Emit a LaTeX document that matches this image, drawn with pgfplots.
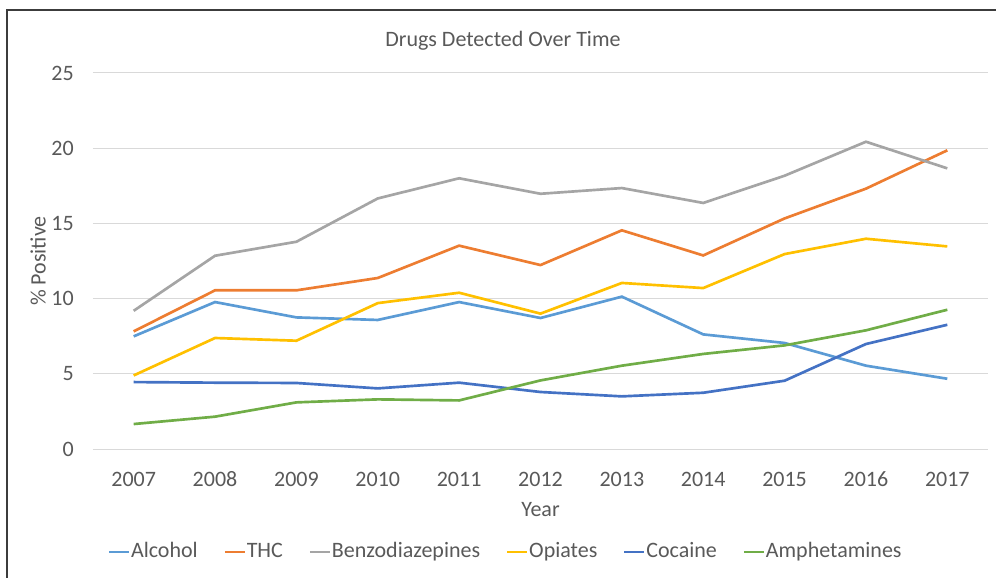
\documentclass[border=0pt]{standalone}
\usepackage{fontspec}
\setmainfont{Carlito}
\usepackage{pgfplots}
\pgfplotsset{compat=1.18}
\definecolor{cAlc}{HTML}{5B9BD5}
\definecolor{cTHC}{HTML}{ED7D31}
\definecolor{cBenz}{HTML}{A5A5A5}
\definecolor{cOpi}{HTML}{FFC000}
\definecolor{cCoc}{HTML}{4472C4}
\definecolor{cAmp}{HTML}{70AD47}
\definecolor{txt}{HTML}{595959}
\definecolor{grd}{HTML}{D9D9D9}
\definecolor{frm}{HTML}{3C3C3C}
\begin{document}
\fontsize{16.5}{19.8}\selectfont
\begin{tikzpicture}
\path[use as bounding box] (-69.75pt,-96.75pt) rectangle (677.25pt,336.75pt);
\begin{axis}[
  at={(0pt,0pt)}, anchor=south west,
  scale only axis, width=671.25pt, height=282pt,
  xmin=2006.5, xmax=2017.5, ymin=0, ymax=25,
  xtick={2007,2008,...,2017}, ytick={0,5,...,25},
  /pgf/number format/assume math mode=true,
  /pgf/number format/1000 sep={},
  axis line style={draw=none}, tick style={draw=none},
  ymajorgrids, grid style={grd, line width=0.75pt},
  ticklabel style={font=\fontsize{16.5}{19.8}\selectfont, text=txt, inner sep=0pt},
  xticklabel style={anchor=base, yshift=-28pt},
  yticklabel style={anchor=east, xshift=-14.25pt},
  xlabel={Year},
  xlabel style={at={(axis description cs:0.5,0)}, anchor=center, yshift=-45.75pt, font=\fontsize{16.5}{19.8}\selectfont, text=txt, inner sep=0pt},
  title={Drugs Detected Over Time},
  title style={at={(axis description cs:0.458,1)}, anchor=center, yshift=18pt, font=\fontsize{16.5}{19.8}\selectfont, text=txt, inner sep=0pt},
  legend columns=6,
  legend image code/.code={\draw[#1] (0pt,0pt) -- (15pt,0pt);},
  legend style={at={(axis description cs:0.4603,0)}, anchor=center, yshift=-77.25pt, draw=none, fill=none,
    font=\fontsize{16.5}{19.8}\selectfont, text=txt,
    nodes={inner xsep=0.5pt, inner ysep=0pt},
    /tikz/every even column/.append style={column sep=18.75pt}},
  every axis plot/.append style={line width=2pt},
]
\addplot[cAlc] coordinates {(2007,7.49)(2008,9.77)(2009,8.75)(2010,8.58)(2011,9.77)(2012,8.71)(2013,10.13)(2014,7.62)(2015,7.05)(2016,5.54)(2017,4.67)};
\addlegendentry{Alcohol}
\addplot[cTHC] coordinates {(2007,7.82)(2008,10.55)(2009,10.55)(2010,11.37)(2011,13.52)(2012,12.23)(2013,14.54)(2014,12.87)(2015,15.33)(2016,17.31)(2017,19.86)};
\addlegendentry{THC}
\addplot[cBenz] coordinates {(2007,9.19)(2008,12.85)(2009,13.78)(2010,16.66)(2011,18.0)(2012,16.97)(2013,17.35)(2014,16.36)(2015,18.17)(2016,20.43)(2017,18.66)};
\addlegendentry{Benzodiazepines}
\addplot[cOpi] coordinates {(2007,4.89)(2008,7.38)(2009,7.2)(2010,9.7)(2011,10.39)(2012,9.0)(2013,11.04)(2014,10.7)(2015,12.96)(2016,13.98)(2017,13.47)};
\addlegendentry{Opiates}
\addplot[cCoc] coordinates {(2007,4.45)(2008,4.41)(2009,4.39)(2010,4.03)(2011,4.41)(2012,3.79)(2013,3.5)(2014,3.74)(2015,4.54)(2016,6.98)(2017,8.26)};
\addlegendentry{Cocaine}
\addplot[cAmp] coordinates {(2007,1.66)(2008,2.15)(2009,3.1)(2010,3.3)(2011,3.23)(2012,4.56)(2013,5.54)(2014,6.32)(2015,6.89)(2016,7.89)(2017,9.26)};
\addlegendentry{Amphetamines}
\end{axis}
\node[rotate=90, anchor=center, text=txt, inner sep=0pt, font=\fontsize{16.5}{19.8}\selectfont] at (-41.25pt,141pt) {\% Positive};
\draw[frm, line width=1.5pt] (-64.5pt,-97pt) -- (-64.5pt,329.25pt) -- (678pt,329.25pt);
\end{tikzpicture}
\end{document}
